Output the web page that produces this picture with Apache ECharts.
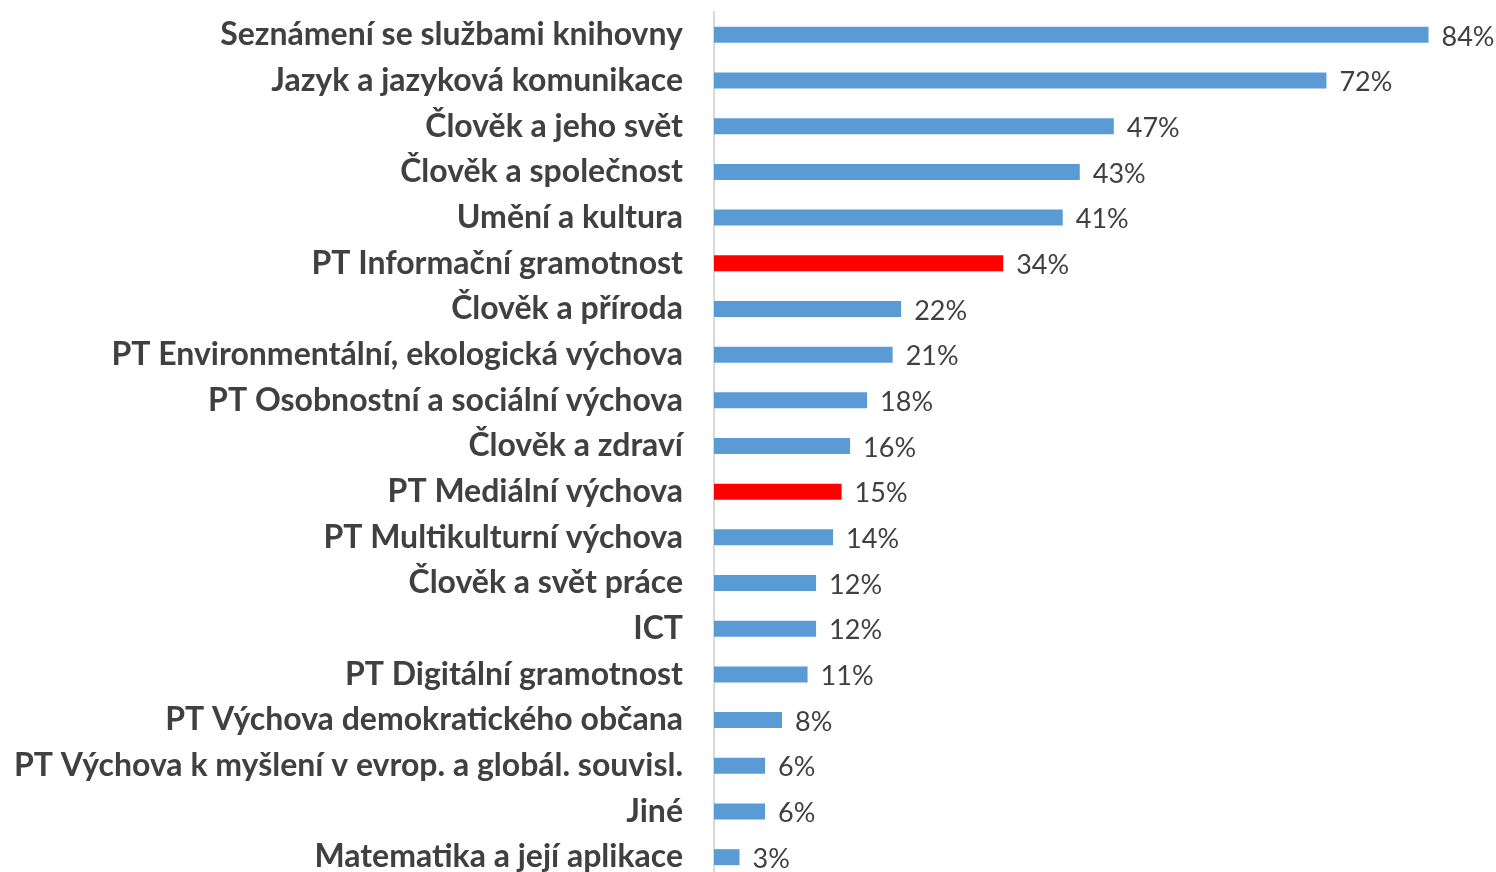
<!DOCTYPE html>
<html>
<head>
<meta charset="utf-8">
<script src="https://cdn.jsdelivr.net/npm/echarts@6/dist/echarts.min.js"></script>
<style>
  html, body { margin: 0; padding: 0; background: #fff; }
  #chart_div { width: 1496px; height: 872px; }
</style>
</head>
<body>
<div id="chart_div"></div>
<script>
// top to bottom, as in the picture
const categories = [
  "Seznámení se službami knihovny",
  "Jazyk a jazyková komunikace",
  "Člověk a jeho svět",
  "Člověk a společnost",
  "Umění a kultura",
  "PT Informační gramotnost",
  "Člověk a příroda",
  "PT Environmentální, ekologická výchova",
  "PT Osobnostní a sociální výchova",
  "Člověk a zdraví",
  "PT Mediální výchova",
  "PT Multikulturní výchova",
  "Člověk a svět práce",
  "ICT",
  "PT Digitální gramotnost",
  "PT Výchova demokratického občana",
  "PT Výchova k myšlení v evrop. a globál. souvisl.",
  "Jiné",
  "Matematika a její aplikace"
];
const values = [84, 72, 47, 43, 41, 34, 22, 21, 18, 16, 15, 14, 12, 12, 11, 8, 6, 6, 3];
const highlighted = ["PT Informační gramotnost", "PT Mediální výchova"];

const blue = "#5b9bd5";
const red = "#ff0000";
const textColor = "#404040";
const font = "Lato";

const chart = echarts.init(document.getElementById("chart_div"));
const option = {
  animation: false,
  grid: {
    left: 714,
    right: 19,
    top: 12,
    height: 868,
    containLabel: false,
    outerBoundsMode: "none"
  },
  xAxis: {
    type: "value",
    min: 0,
    max: 89.7,
    show: false
  },
  yAxis: {
    type: "category",
    inverse: true,
    data: categories,
    axisLine: { lineStyle: { color: "#d9d9d9", width: 2 } },
    axisTick: { show: false },
    axisLabel: {
      color: textColor,
      fontFamily: font,
      fontWeight: "bold",
      fontSize: 32,
      margin: 31
    }
  },
  series: [
    {
      type: "bar",
      barWidth: 16,
      data: values.map((v, i) => ({
        value: v,
        itemStyle: { color: highlighted.includes(categories[i]) ? red : blue }
      })),
      label: {
        show: true,
        position: "right",
        distance: 13,
        color: textColor,
        fontFamily: font,
        fontSize: 27,
        offset: [0, 2],
        formatter: p => p.value + "%"
      }
    }
  ]
};
chart.setOption(option);
</script>
</body>
</html>
